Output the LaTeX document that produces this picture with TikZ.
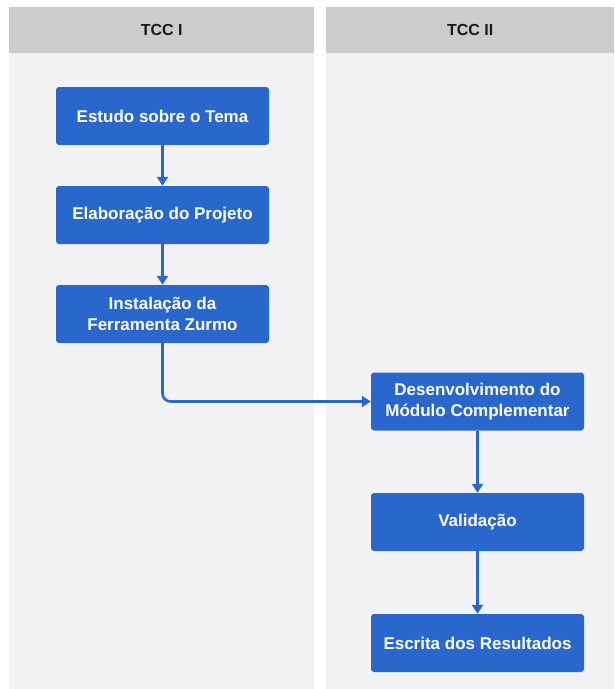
\documentclass[tikz,border=0pt]{standalone}
\usepackage{fontspec}
\setmainfont{Liberation Sans}
\usetikzlibrary{arrows.meta}
\definecolor{boxblue}{RGB}{42,103,204}
\definecolor{headgray}{RGB}{204,204,204}
\definecolor{lanegray}{RGB}{242,242,244}
\tikzset{
  lane/.style={fill=lanegray, draw=none},
  lanehead/.style={fill=headgray, draw=none, font=\fontsize{16}{18}\selectfont\bfseries, text=black!90},
  stepbox/.style={fill=boxblue, draw=none, rounded corners=3pt, text=white,
    font=\fontsize{17}{21}\selectfont\bfseries, align=center,
    minimum width=213pt, minimum height=58pt, inner sep=0pt},
  flow/.style={draw=boxblue, line width=2.6pt, -{Triangle[length=9pt,width=11pt]}, rounded corners=8pt}
}
\begin{document}
\begin{tikzpicture}[x=1pt,y=-1pt]
\useasboundingbox (0,0) rectangle (614,689);
\fill[white] (0,0) rectangle (614,689);
% lanes
\fill[lane] (9,53) rectangle (314,689);
\fill[lane] (326,53) rectangle (614,689);
\node[lanehead, minimum width=305pt, minimum height=46pt, inner sep=0pt, anchor=north west] (h1) at (9,7) {TCC I};
\node[lanehead, minimum width=288pt, minimum height=46pt, inner sep=0pt, anchor=north west] (h2) at (326,7) {TCC II};
% boxes
\node[stepbox] (b1) at (162.5,116) {Estudo sobre o Tema};
\node[stepbox] (b2) at (162.5,215) {Elaboração do Projeto};
\node[stepbox] (b3) at (162.5,314) {Instalação da\\Ferramenta Zurmo};
\node[stepbox] (b4) at (477.5,401.5) {Desenvolvimento do\\Módulo Complementar};
\node[stepbox] (b5) at (477.5,522) {Validação};
\node[stepbox] (b6) at (477.5,643) {Escrita dos Resultados};
% connectors
\draw[flow] (b1) -- (b2);
\draw[flow] (b2) -- (b3);
\draw[flow] (b3.south) |- (b4.west);
\draw[flow] (b4) -- (b5);
\draw[flow] (b5) -- (b6);
\end{tikzpicture}
\end{document}
